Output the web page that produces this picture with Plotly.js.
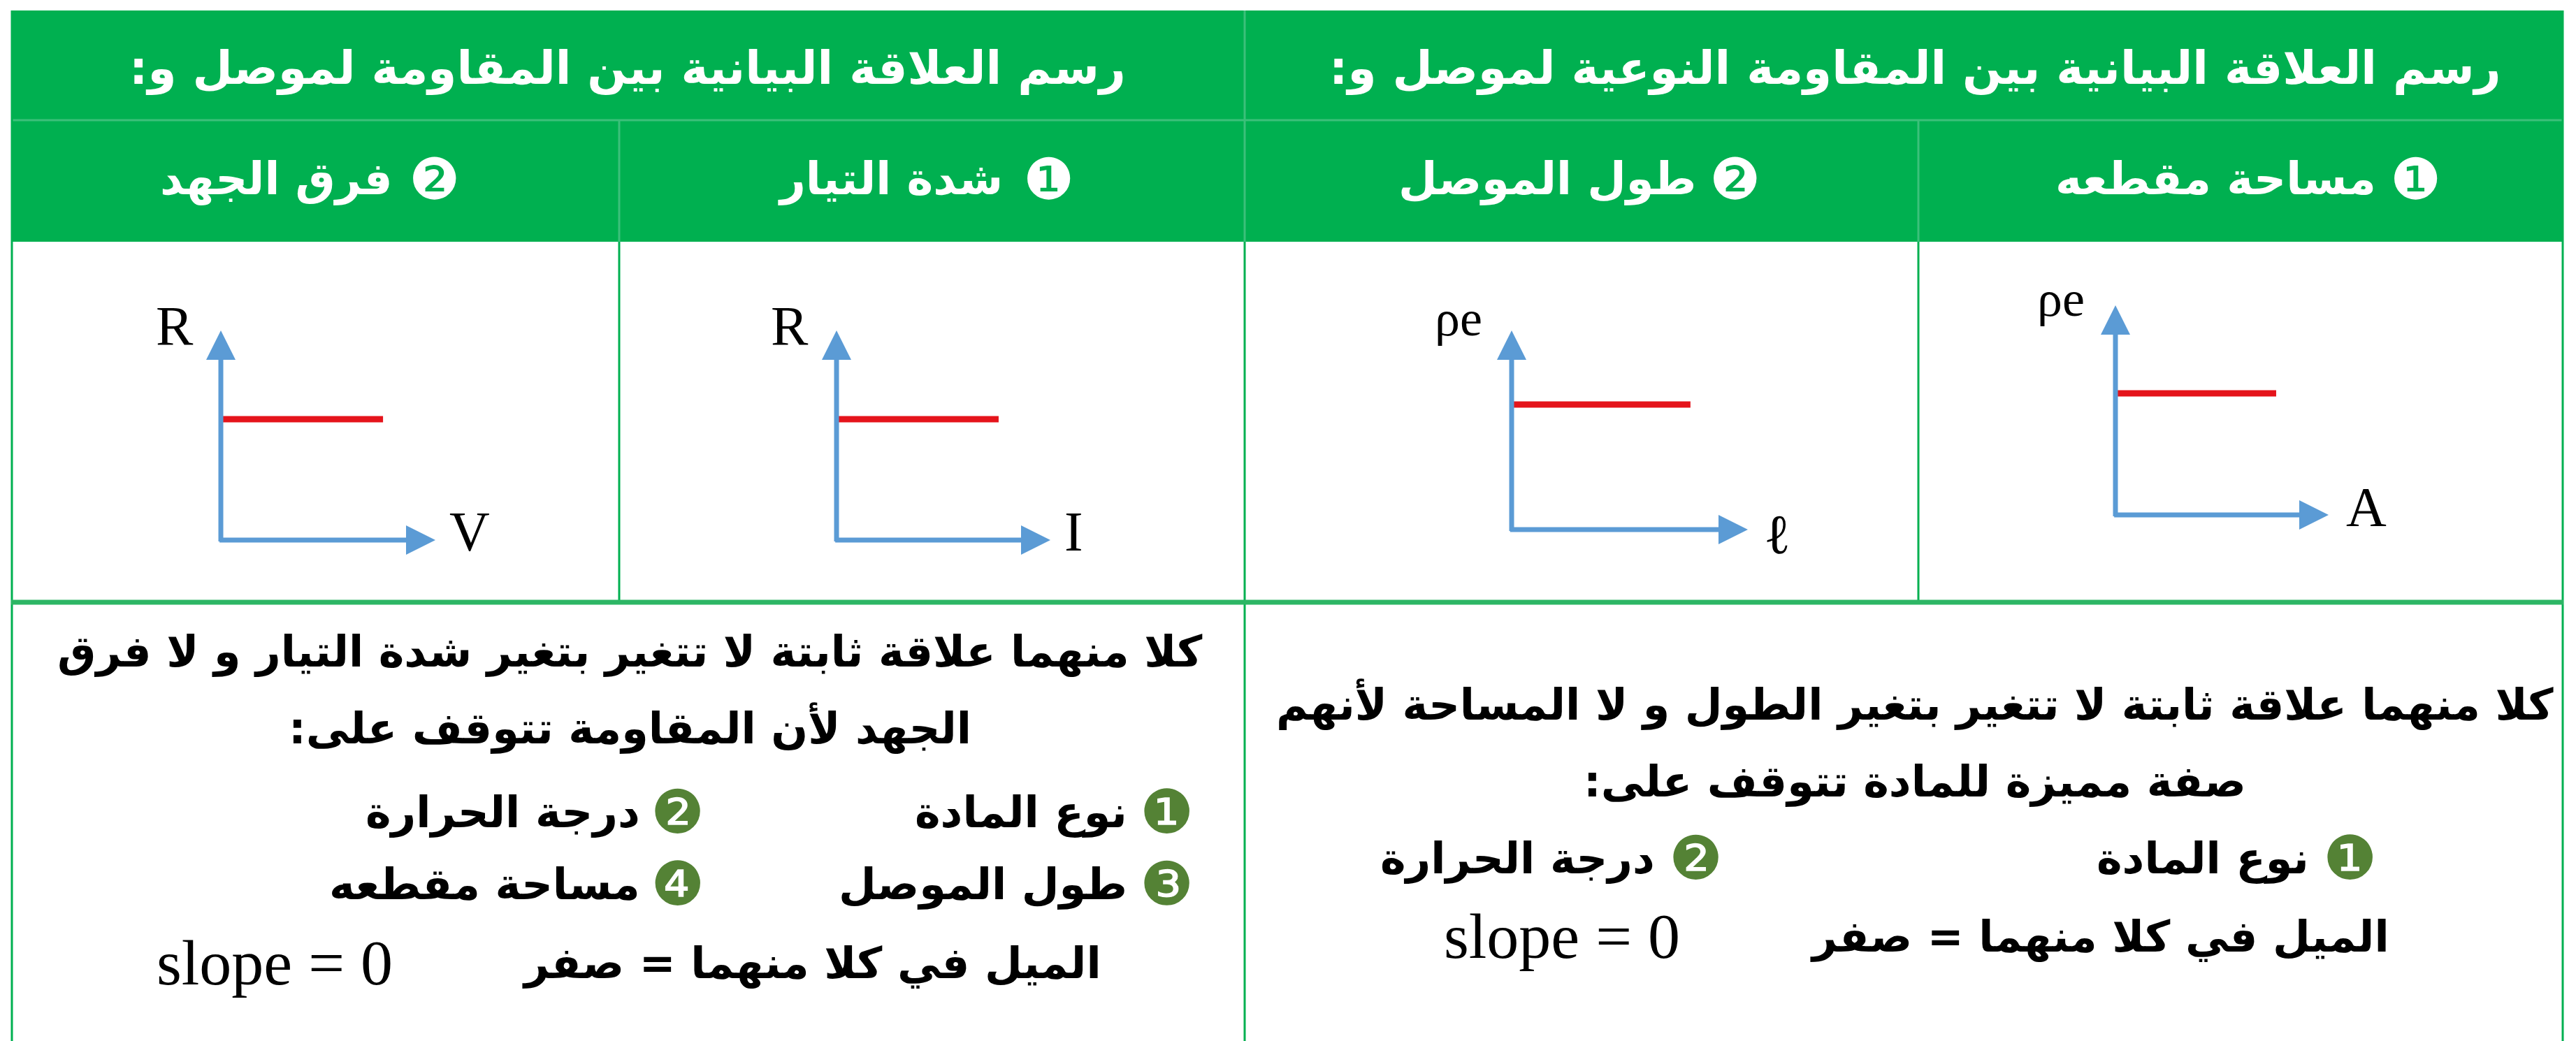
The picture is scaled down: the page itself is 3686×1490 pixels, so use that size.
<!DOCTYPE html>
<html>
<head>
<meta charset="utf-8">
<script src="https://cdn.plot.ly/plotly-3.0.1.min.js"></script>
<style>
  html, body { margin: 0; padding: 0; background: #ffffff; }
  #chart { width: 3686px; height: 1490px; }
</style>
</head>
<body>
<div id="chart"></div>
<script>
// ---------- content ----------
const groupTitles = [
  "رسم العلاقة البيانية بين المقاومة لموصل و:",
  "رسم العلاقة البيانية بين المقاومة النوعية لموصل و:"
];
const graphNumbers = ["❷", "❶", "❷", "❶"];
const graphTitles = ["فرق الجهد", "شدة التيار", "طول الموصل", "مساحة مقطعه"];
const xSymbols = ["V", "I", "ℓ", "A"];
const ySymbols = ["R", "R", "ρe", "ρe"];
// constant level of the red line (fraction of the vertical axis) and how far it runs
const constantLevel = [0.577, 0.577, 0.628, 0.58];
const lineExtent = [0.756, 0.758, 0.757, 0.754];

const noteLeft = [
  "كلا منهما علاقة ثابتة لا تتغير بتغير شدة التيار و لا فرق",
  "الجهد لأن المقاومة تتوقف على:"
];
const factorNumbersLeft = ["❶", "❷", "❸", "❹"];
const factorsLeft = ["نوع المادة", "درجة الحرارة", "طول الموصل", "مساحة مقطعه"];
const noteRight = [
  "كلا منهما علاقة ثابتة لا تتغير بتغير الطول و لا المساحة لأنهم",
  "صفة مميزة للمادة تتوقف على:"
];
const factorNumbersRight = ["❶", "❷"];
const factorsRight = ["نوع المادة", "درجة الحرارة"];
const slopeArabic = "الميل في كلا منهما = صفر";
const slopeLatin = "slope = 0";

// ---------- geometry helpers (pixel -> paper) ----------
const W = 3686, H = 1490;
const X = v => v / W;
const Y = v => 1 - v / H;
const rtl = s => "\u202B" + s + "\u202C";

const GREEN = "#00b050";
const GREEN_LIGHT = "#3cc07a";
const BLUE = "#5b9bd5";
const RED = "#e5141b";
const BULLET = "#548235";
const AR_FONT = "DejaVu Sans";
const SERIF = "Liberation Serif, Times New Roman, serif";

// panel boxes: origin corner and arrow tips, in pixels
const panels = [
  { x0: 316,  x1: 623,  yb: 773, yt: 473 },
  { x0: 1197, x1: 1503, yb: 773, yt: 473 },
  { x0: 2163, x1: 2501, yb: 758, yt: 473 },
  { x0: 3027, x1: 3332, yb: 737, yt: 437 }
];
// axis ranges leave room around the arrows for the symbols
const XR = [-0.45, 1.35], YR = [-0.2, 1.25];
const yLabelPos = [[-0.215, 1.02], [-0.219, 1.02], [-0.225, 1.06], [-0.255, 1.03]];
const xLabelPos = [[1.16, 0.04], [1.11, 0.04], [1.124, -0.025], [1.177, 0.037]];
const labelSize = [80, 80, 72, 72];

// ---------- table frame ----------
const shapes = [];
function rect(x0, y0, x1, y1, fill) {
  shapes.push({ type: "rect", xref: "paper", yref: "paper", x0: X(x0), x1: X(x1), y0: Y(y1), y1: Y(y0),
    fillcolor: fill, line: { width: 0 }, layer: "below" });
}
function hline(x0, x1, y, color, w) {
  shapes.push({ type: "line", xref: "paper", yref: "paper", x0: X(x0), x1: X(x1), y0: Y(y), y1: Y(y),
    line: { color: color, width: w }, layer: "above" });
}
function vline(x, y0, y1, color, w) {
  shapes.push({ type: "line", xref: "paper", yref: "paper", x0: X(x), x1: X(x), y0: Y(y0), y1: Y(y1),
    line: { color: color, width: w }, layer: "above" });
}
rect(16, 15, 3668, 346, GREEN);
hline(16, 3668, 172, GREEN_LIGHT, 3);
vline(1781, 15, 346, GREEN_LIGHT, 3);
vline(886, 172, 346, GREEN_LIGHT, 3);
vline(2745, 172, 346, GREEN_LIGHT, 3);
vline(17, 15, 1490, GREEN, 3);
vline(3667, 15, 1490, GREEN, 3);
vline(1781, 346, 1490, GREEN, 3);
vline(886, 346, 862, GREEN, 3);
vline(2745, 346, 862, GREEN, 3);
hline(16, 3668, 862, "#2db665", 7);

// ---------- annotations ----------
const annotations = [];
function txt(text, x, y, size, opts) {
  opts = opts || {};
  annotations.push(Object.assign({
    text: text, xref: "paper", yref: "paper", x: X(x), y: Y(y),
    xanchor: "center", yanchor: "middle", showarrow: false,
    font: { family: AR_FONT, size: size, color: "#000000" }
  }, opts));
}

// header rows
const groupCenters = [898, 2740];
groupTitles.forEach((t, i) => {
  txt("<b>" + rtl(t) + "</b>", groupCenters[i], 98, 66,
    { font: { family: AR_FONT, size: 66, color: "#ffffff" } });
});
// sub-headers: the circled number sits to the right of the title
const subNumberRight = [661, 1540, 2522, 3496];
const subTitleRight = [564, 1437, 2429, 3402];
graphTitles.forEach((t, i) => {
  txt(graphNumbers[i], subNumberRight[i], 256, 82,
    { xanchor: "right", font: { family: AR_FONT, size: 82, color: "#ffffff" } });
  txt("<b>" + rtl(t) + "</b>", subTitleRight[i], 256, 64,
    { xanchor: "right", font: { family: AR_FONT, size: 64, color: "#ffffff" } });
});

// mini graphs: axes with arrowheads, the constant line and the axis symbols
const data = [];
const layoutAxes = {};
panels.forEach((p, i) => {
  const n = i === 0 ? "" : String(i + 1);
  const xa = "x" + n, ya = "y" + n;
  const w = p.x1 - p.x0, h = p.yb - p.yt;
  layoutAxes["xaxis" + n] = { domain: [X(p.x0 + XR[0] * w), X(p.x0 + XR[1] * w)], range: XR,
    visible: false, fixedrange: true, anchor: ya };
  layoutAxes["yaxis" + n] = { domain: [Y(p.yb - YR[0] * h), Y(p.yb - YR[1] * h)], range: YR,
    visible: false, fixedrange: true, anchor: xa };

  data.push({ type: "scatter", mode: "lines", xaxis: xa, yaxis: ya,
    x: [0, lineExtent[i]], y: [constantLevel[i], constantLevel[i]],
    line: { color: RED, width: 9 }, hoverinfo: "skip" });

  // vertical axis arrow
  annotations.push({ xref: xa, yref: ya, axref: xa, ayref: ya, x: 0, y: 1, ax: 0, ay: -0.012,
    text: "", showarrow: true, arrowhead: 2, arrowsize: 1.2, arrowwidth: 7, arrowcolor: BLUE });
  // horizontal axis arrow
  annotations.push({ xref: xa, yref: ya, axref: xa, ayref: ya, x: 1, y: 0, ax: -0.011, ay: 0,
    text: "", showarrow: true, arrowhead: 2, arrowsize: 1.2, arrowwidth: 7, arrowcolor: BLUE });

  annotations.push({ xref: xa, yref: ya, x: yLabelPos[i][0], y: yLabelPos[i][1], text: ySymbols[i],
    showarrow: false, xanchor: "center", yanchor: "middle",
    font: { family: SERIF, size: labelSize[i], color: "#000000" } });
  annotations.push({ xref: xa, yref: ya, x: xLabelPos[i][0], y: xLabelPos[i][1], text: xSymbols[i],
    showarrow: false, xanchor: "center", yanchor: "middle",
    font: { family: SERIF, size: 80, color: "#000000" } });
});

// explanatory notes, left cell
const BODY = 62;
const b = s => "<b>" + rtl(s) + "</b>";
txt(b(noteLeft[0]), 901, 932, BODY);
txt(b(noteLeft[1]), 901, 1042, BODY);
const leftRows = [1162, 1162, 1265, 1265];
const leftBullet = [1710, 1010, 1710, 1010];
const leftText = [1615, 918, 1615, 918];
factorsLeft.forEach((f, i) => {
  txt(factorNumbersLeft[i], leftBullet[i], leftRows[i], 86,
    { xanchor: "right", font: { family: AR_FONT, size: 86, color: BULLET } });
  txt(b(f), leftText[i], leftRows[i], BODY, { xanchor: "right" });
});
txt(b(slopeArabic), 1578, 1378, BODY, { xanchor: "right" });
txt(slopeLatin, 222, 1378, 92, { xanchor: "left", font: { family: SERIF, size: 92, color: "#000000" } });

// explanatory notes, right cell
txt(b(noteRight[0]), 2740, 1008, BODY);
txt(b(noteRight[1]), 2740, 1118, BODY);
const rightBullet = [3403, 2467];
const rightText = [3306, 2370];
factorsRight.forEach((f, i) => {
  txt(factorNumbersRight[i], rightBullet[i], 1228, 86,
    { xanchor: "right", font: { family: AR_FONT, size: 86, color: BULLET } });
  txt(b(f), rightText[i], 1228, BODY, { xanchor: "right" });
});
txt(b(slopeArabic), 3421, 1340, BODY, { xanchor: "right" });
txt(slopeLatin, 2064, 1340, 92, { xanchor: "left", font: { family: SERIF, size: 92, color: "#000000" } });

const layout = Object.assign({
  width: W, height: H,
  margin: { l: 0, r: 0, t: 0, b: 0, pad: 0 },
  paper_bgcolor: "#ffffff", plot_bgcolor: "rgba(0,0,0,0)",
  showlegend: false,
  shapes: shapes,
  annotations: annotations
}, layoutAxes);

Plotly.newPlot("chart", data, layout, { staticPlot: true, displayModeBar: false });
</script>
</body>
</html>
